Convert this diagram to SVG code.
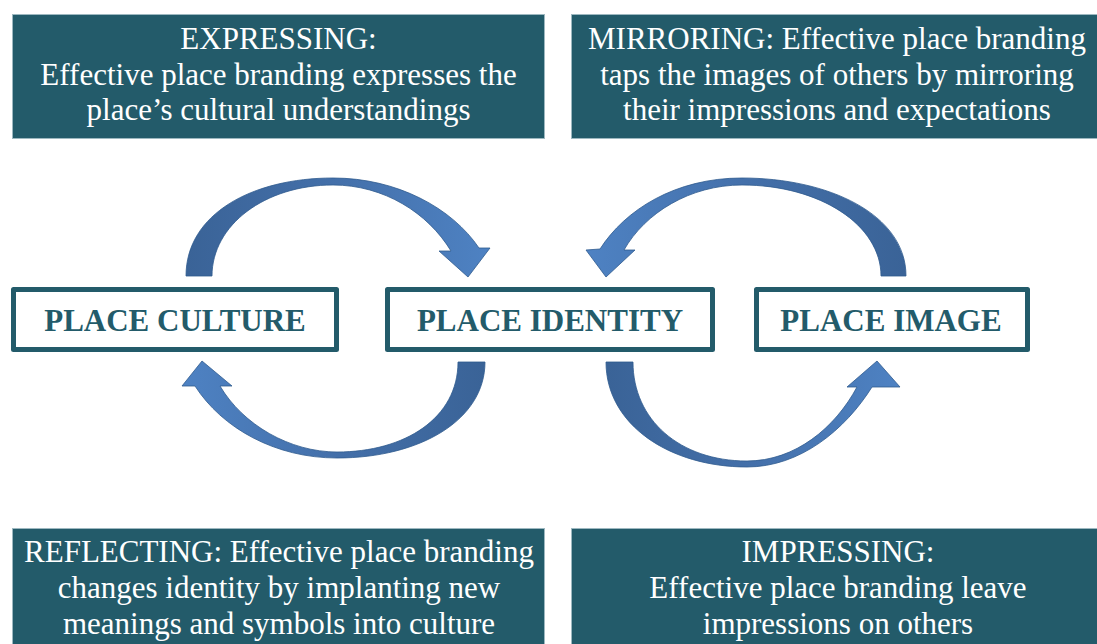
<svg xmlns="http://www.w3.org/2000/svg" width="1097" height="644" viewBox="0 0 1097 644">
<style>
.lbl{fill:#235B6A;stroke:#9DB8C0;stroke-width:1}
.lt{font-family:"Liberation Serif","Times New Roman",serif;font-size:31px;fill:#ffffff;text-anchor:middle}
.node{fill:#ffffff;stroke:#235B6A;stroke-width:5;stroke-linejoin:round}
.nt{font-family:"Liberation Serif","Times New Roman",serif;font-size:31px;font-weight:bold;fill:#235B6A;text-anchor:middle}
.arr{stroke:#2F5A8E;stroke-width:0.8}
</style>
<defs>
<linearGradient id="gLR" x1="0" y1="0" x2="1" y2="0">
<stop offset="0" stop-color="#3A6397"/><stop offset="0.5" stop-color="#4470AA"/><stop offset="1" stop-color="#4E82C3"/>
</linearGradient>
<linearGradient id="gRL" x1="1" y1="0" x2="0" y2="0">
<stop offset="0" stop-color="#3A6397"/><stop offset="0.5" stop-color="#4470AA"/><stop offset="1" stop-color="#4E82C3"/>
</linearGradient>
</defs>
<rect width="1097" height="644" fill="#ffffff"/>
<g id="label-expressing">
<rect class="lbl" x="12.5" y="14.5" width="532" height="124"/>
<text class="lt" x="278.5" y="49">EXPRESSING:</text>
<text class="lt" x="278.5" y="84.5">Effective place branding expresses the</text>
<text class="lt" x="278.5" y="120">place’s cultural understandings</text>
</g>
<g id="label-mirroring">
<rect class="lbl" x="571.5" y="14.5" width="530" height="124"/>
<text class="lt" x="837" y="49">MIRRORING: Effective place branding</text>
<text class="lt" x="837" y="84.5">taps the images of others by mirroring</text>
<text class="lt" x="837" y="120">their impressions and expectations</text>
</g>
<g id="label-reflecting">
<rect class="lbl" x="12.5" y="528.5" width="532" height="130"/>
<text class="lt" x="279" y="562">REFLECTING: Effective place branding</text>
<text class="lt" x="279" y="598">changes identity by implanting new</text>
<text class="lt" x="279" y="634">meanings and symbols into culture</text>
</g>
<g id="label-impressing">
<rect class="lbl" x="571.5" y="528.5" width="530" height="130"/>
<text class="lt" x="838" y="562">IMPRESSING:</text>
<text class="lt" x="838" y="598">Effective place branding leave</text>
<text class="lt" x="838" y="634">impressions on others</text>
</g>
<g id="connectors">
<path class="arr" fill="url(#gLR)" d="M186,276 C186,214 252,178 333,178 C397,178 452,208 479,248 L490,248 L468,277 L439,251 L451,251 C428,213 384,185 333,185 C265,185 212,225 212,276 Z"/>
<path class="arr" fill="url(#gRL)" d="M485,362 C485,420 420,458 337,458 C275,458 222,428 195,386 L182,386 L202,361 L232,386 L220,386 C243,425 290,452 337,452 C405,452 458,418 458,362 Z"/>
<path class="arr" fill="url(#gRL)" d="M906,276 C906,214 828,178 742,178 C675,178 625,210 600,249 L586,250 L606,277 L635,250 L624,250 C645,213 690,185 742,185 C820,185 881,225 881,276 Z"/>
<path class="arr" fill="url(#gLR)" d="M606,362 C606,425 670,467 747,467 C800,467 845,430 872,387 L900,387 L877,361 L847,387 L857,387 C835,428 795,461 747,461 C680,461 633,420 633,362 Z"/>
</g>
<g id="node-culture">
<rect class="node" x="13.5" y="289.5" width="323" height="60"/>
<text class="nt" x="175" y="330.5">PLACE CULTURE</text>
</g>
<g id="node-identity">
<rect class="node" x="387.5" y="289.5" width="325" height="60"/>
<text class="nt" x="550" y="330.5">PLACE IDENTITY</text>
</g>
<g id="node-image">
<rect class="node" x="756.5" y="289.5" width="271" height="60"/>
<text class="nt" x="891" y="330.5">PLACE IMAGE</text>
</g>
</svg>
